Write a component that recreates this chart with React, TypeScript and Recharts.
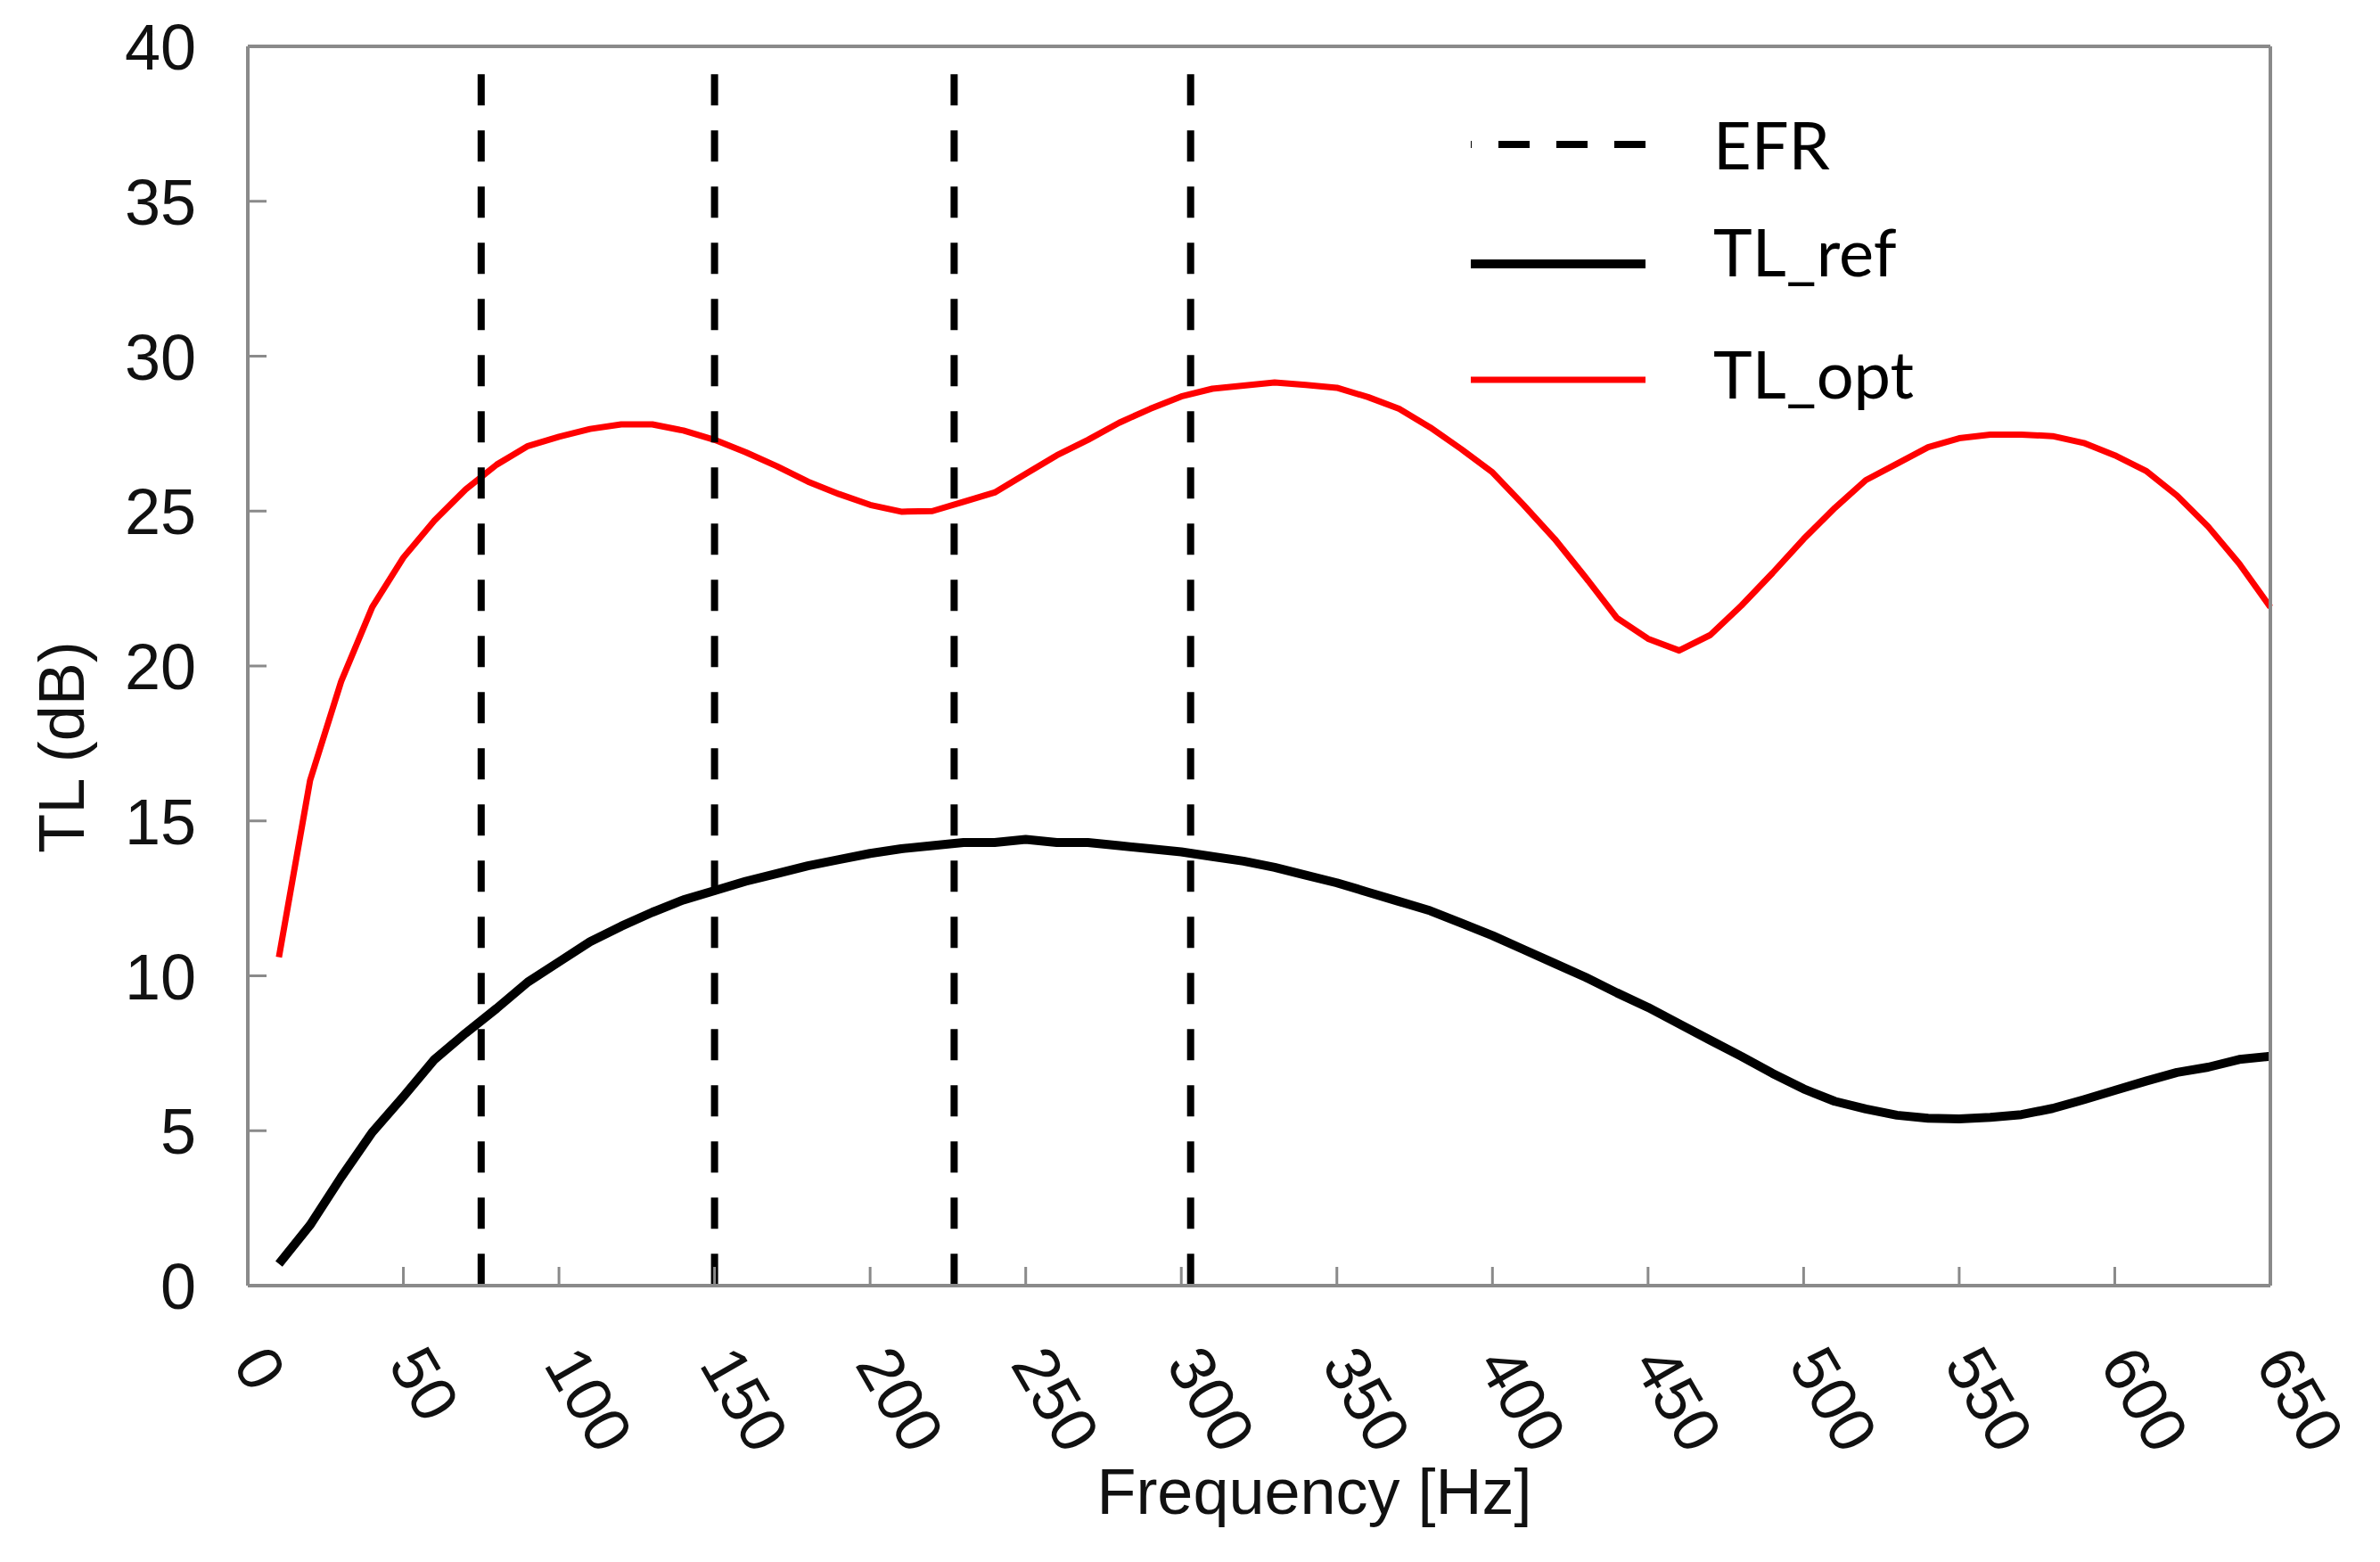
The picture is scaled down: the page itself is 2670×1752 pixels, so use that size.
import React from 'react';
import { LineChart, Line, XAxis, YAxis, ReferenceLine, Legend, Label } from 'recharts';

const freqs = [
  10, 20, 30, 40, 50, 60, 70, 80, 90, 100,
  110, 120, 130, 140, 150, 160, 170, 180, 190, 200,
  210, 220, 230, 240, 250, 260, 270, 280, 290, 300,
  310, 320, 330, 340, 350, 360, 370, 380, 390, 400,
  410, 420, 430, 440, 450, 460, 470, 480, 490, 500,
  510, 520, 530, 540, 550, 560, 570, 580, 590, 600,
  610, 620, 630, 640, 650,
];

const tlRef = [
  0.7, 1.95, 3.5, 4.95, 6.1, 7.3, 8.15, 8.95, 9.8, 10.45,
  11.1, 11.6, 12.05, 12.45, 12.75, 13.05, 13.3, 13.55, 13.75, 13.95,
  14.1, 14.2, 14.3, 14.3, 14.4, 14.3, 14.3, 14.2, 14.1, 14.0,
  13.85, 13.7, 13.5, 13.25, 13.0, 12.7, 12.4, 12.1, 11.7, 11.3,
  10.85, 10.4, 9.95, 9.45, 8.98, 8.45, 7.92, 7.4, 6.85, 6.35,
  5.95, 5.7, 5.5, 5.4, 5.38, 5.43, 5.52, 5.72, 6.0, 6.3,
  6.6, 6.88, 7.05, 7.3, 7.4,
];

const tlOpt = [
  10.6, 16.3, 19.5, 21.9, 23.5, 24.7, 25.7, 26.5, 27.1, 27.4,
  27.65, 27.8, 27.8, 27.6, 27.3, 26.9, 26.45, 25.95, 25.55, 25.2,
  24.98, 25.0, 25.3, 25.6, 26.2, 26.8, 27.3, 27.85, 28.3, 28.7,
  28.95, 29.05, 29.15, 29.07, 28.98, 28.68, 28.3, 27.7, 27.0, 26.25,
  25.2, 24.1, 22.85, 21.55, 20.88, 20.5, 21.0, 21.95, 23.0, 24.1,
  25.1, 26.0, 26.53, 27.06, 27.35, 27.47, 27.47, 27.42, 27.2, 26.8,
  26.3, 25.5, 24.5, 23.3, 21.9,
];

const efrFreqs = [75, 150, 227, 303];
const efrTop = 39.1;

const xTicks = [0, 50, 100, 150, 200, 250, 300, 350, 400, 450, 500, 550, 600, 650];
const yTicks = [0, 5, 10, 15, 20, 25, 30, 35, 40];

const legendItems = [
  { name: 'EFR', color: '#000000', width: 8, dash: '35 30' },
  { name: 'TL_ref', color: '#000000', width: 10, dash: undefined as string | undefined },
  { name: 'TL_opt', color: '#ff0000', width: 7, dash: undefined as string | undefined },
];

const data = freqs.map((f, i) => ({ f, ref: tlRef[i], opt: tlOpt[i] }));

const AXIS_COLOR = '#8a8a8a';
const TICK_FONT = "'Liberation Sans', Arial, sans-serif";

const XTick = (props: any) => {
  const { x, y, payload } = props;
  return (
    <text
      transform={`translate(${x - 18}, ${y + 21 + 88}) rotate(60)`}
      textAnchor="start"
      fontSize={72}
      fontFamily={TICK_FONT}
      fill="#111"
    >
      {payload.value}
    </text>
  );
};

const YTick = (props: any) => {
  const { x, y, payload } = props;
  return (
    <text x={x - 79} y={y + 26} textAnchor="end" fontSize={72} fontFamily={TICK_FONT} fill="#111">
      {payload.value}
    </text>
  );
};

const legendRows = [74, 208, 338];
const legendTextY = [102, 222, 359];

const LegendBox = () => (
  <svg width={620} height={420} style={{ display: 'block', overflow: 'visible' }}>
    {legendItems.map((it, i) => (
      <g key={it.name}>
        <line
          x1={218}
          x2={22}
          y1={legendRows[i]}
          y2={legendRows[i]}
          stroke={it.color}
          strokeWidth={it.width}
          strokeDasharray={it.dash}
        />
        <text x={294} y={legendTextY[i]} fontSize={74} fontFamily="Lato, 'Open Sans', sans-serif" fill="#000">
          {it.name}
        </text>
      </g>
    ))}
  </svg>
);

export default function App() {
  return (
    <div style={{ width: 2654, height: 1740, background: '#fff' }}>
      <LineChart
        width={2654}
        height={1740}
        data={data}
        margin={{ top: 43, right: 114, bottom: 305, left: 269 }}
      >
        <XAxis
          dataKey="f"
          type="number"
          domain={[0, 650]}
          ticks={xTicks}
          interval={0}
          height={1}
          tickSize={-21}
          tickMargin={0}
          axisLine={{ stroke: AXIS_COLOR, strokeWidth: 4 }}
          tickLine={{ stroke: AXIS_COLOR, strokeWidth: 3 }}
          tick={<XTick />}
        >
          <Label
            content={(p: any) => {
              const vb = p.viewBox || { x: 270, y: 1434, width: 2269, height: 0 };
              return (
                <text
                  x={vb.x + vb.width / 2 + 62}
                  y={vb.y + 256}
                  textAnchor="middle"
                  fontSize={72}
                  fontFamily={TICK_FONT}
                  fill="#111"
                >
                  Frequency [Hz]
                </text>
              );
            }}
          />
        </XAxis>
        <XAxis
          xAxisId="top"
          orientation="top"
          type="number"
          domain={[0, 650]}
          height={1}
          tick={false}
          tickLine={false}
          axisLine={{ stroke: AXIS_COLOR, strokeWidth: 4 }}
        />
        <YAxis
          type="number"
          domain={[0, 40]}
          ticks={yTicks}
          interval={0}
          width={1}
          tickSize={-21}
          tickMargin={0}
          axisLine={{ stroke: AXIS_COLOR, strokeWidth: 4 }}
          tickLine={{ stroke: AXIS_COLOR, strokeWidth: 3 }}
          tick={<YTick />}
        >
          <Label
            content={(p: any) => {
              const vb = p.viewBox || { x: 269, y: 44, width: 1, height: 1390 };
              return (
                <text
                  transform={`translate(${vb.x + vb.width - 184}, ${vb.y + vb.height / 2 + 91}) rotate(-90)`}
                  textAnchor="middle"
                  fontSize={72}
                  fontFamily={TICK_FONT}
                  fill="#111"
                >
                  TL (dB)
                </text>
              );
            }}
          />
        </YAxis>
        <YAxis
          yAxisId="right"
          orientation="right"
          type="number"
          domain={[0, 40]}
          width={1}
          tick={false}
          tickLine={false}
          axisLine={{ stroke: AXIS_COLOR, strokeWidth: 4 }}
        />
        <Line
          dataKey="opt"
          name="TL_opt"
          type="linear"
          stroke="#ff0000"
          strokeWidth={7}
          dot={false}
          activeDot={false}
          strokeLinejoin="round"
          isAnimationActive={false}
        />
        <Line
          dataKey="ref"
          name="TL_ref"
          type="linear"
          stroke="#000000"
          strokeWidth={10}
          dot={false}
          activeDot={false}
          strokeLinejoin="round"
          isAnimationActive={false}
        />
        {efrFreqs.map((f) => (
          <ReferenceLine
            key={f}
            segment={[{ x: f, y: efrTop }, { x: f, y: 0 }]}
            stroke="#000000"
            strokeWidth={8}
            strokeDasharray="35 28"
          />
        ))}
        <Legend
          layout="vertical"
          align="center"
          verticalAlign="middle"
          wrapperStyle={{ left: 1620, top: 80, width: 620, height: 420 }}
          content={() => <LegendBox />}
        />
      </LineChart>
    </div>
  );
}
